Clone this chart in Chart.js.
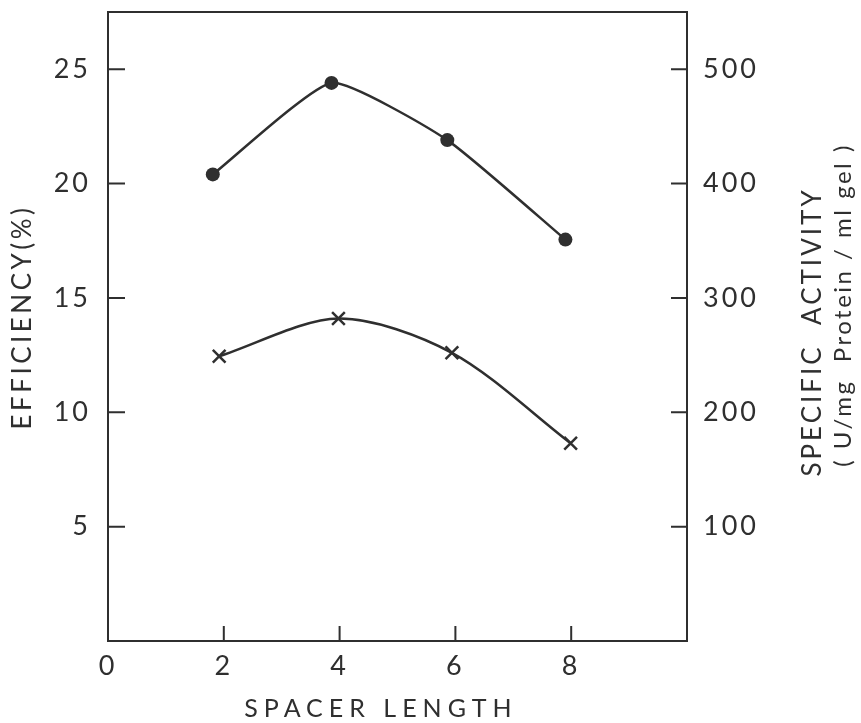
<!DOCTYPE html>
<html>
<head>
<meta charset="utf-8">
<script src="https://cdn.jsdelivr.net/npm/chart.js@4/dist/chart.umd.min.js"></script>
<style>
  html, body { margin: 0; padding: 0; background: #fff; }
  #wrap { width: 861px; height: 723px; position: relative; }
</style>
</head>
<body>
<div id="wrap"><canvas id="c"></canvas></div>
<script>
// Spacer length (x) for each measured point
const spacerEff = [1.81, 3.86, 5.86, 7.90];
const efficiency = [20.4, 24.4, 21.9, 17.55];          // %, left axis (filled circles)
const spacerAct = [1.92, 3.98, 5.94, 7.99];
const specificActivity = [249, 282, 252, 173];         // U/mg protein/ml gel, right axis (crosses)

const xTicks = [0, 2, 4, 6, 8];
const leftTicks = [5, 10, 15, 20, 25];
const rightTicks = [100, 200, 300, 400, 500];

const INK = '#2f2f2f';
const FONT = 'Lato, "Open Sans", "DejaVu Sans", sans-serif';

const effPoints = spacerEff.map((x, i) => ({ x, y: efficiency[i] }));
const actPoints = spacerAct.map((x, i) => ({ x, y: specificActivity[i] }));

// no extra edge padding for the end tick labels
const noEdgePad = s => { s.paddingTop = 0; s.paddingBottom = 0; s.paddingLeft = 0; s.paddingRight = 0; };

// Frame, inward tick marks and axis titles
const decor = {
  id: 'decor',
  beforeDraw(chart) {
    chart.ctx.letterSpacing = '3px';
  },
  afterDraw(chart) {
    const { ctx, chartArea: a, scales } = chart;
    ctx.save();
    ctx.strokeStyle = INK;
    ctx.lineWidth = 2;
    ctx.strokeRect(a.left, a.top, a.right - a.left, a.bottom - a.top);

    ctx.beginPath();
    scales.x.ticks.forEach(t => {
      if (t.value === 0) return;
      const px = scales.x.getPixelForValue(t.value);
      ctx.moveTo(px, a.bottom); ctx.lineTo(px, a.bottom - 15);
    });
    scales.y.ticks.forEach(t => {
      const py = scales.y.getPixelForValue(t.value);
      ctx.moveTo(a.left, py); ctx.lineTo(a.left + 17, py);
    });
    scales.y2.ticks.forEach(t => {
      const py = scales.y2.getPixelForValue(t.value);
      ctx.moveTo(a.right, py); ctx.lineTo(a.right - 16, py);
    });
    ctx.stroke();

    ctx.fillStyle = INK;
    ctx.textAlign = 'center';
    ctx.textBaseline = 'middle';

    // bottom title
    ctx.letterSpacing = '6px';
    ctx.font = '25px ' + FONT;
    ctx.fillText('SPACER LENGTH', 381, 709);

    // left title
    ctx.save();
    ctx.translate(23, 317);
    ctx.rotate(-Math.PI / 2);
    ctx.letterSpacing = '3.5px';
    ctx.font = '26px ' + FONT;
    ctx.fillText('EFFICIENCY(%)', 0, 0);
    ctx.restore();

    // right title, two lines
    ctx.save();
    ctx.translate(813, 332);
    ctx.rotate(-Math.PI / 2);
    ctx.letterSpacing = '3px';
    ctx.font = '26px ' + FONT;
    ctx.fillText('SPECIFIC  ACTIVITY', 0, 0);
    ctx.restore();

    ctx.save();
    ctx.translate(843, 305);
    ctx.rotate(-Math.PI / 2);
    ctx.letterSpacing = '2.5px';
    ctx.font = '24px ' + FONT;
    ctx.fillText('( U/mg  Protein / ml gel )', 0, 0);
    ctx.restore();

    ctx.restore();
  }
};

new Chart(document.getElementById('c'), {
  type: 'line',
  data: {
    datasets: [
      {
        label: 'Efficiency (%)',
        data: effPoints,
        yAxisID: 'y',
        borderColor: INK,
        backgroundColor: INK,
        borderWidth: 2.5,
        tension: 0.16,
        pointStyle: 'circle',
        pointRadius: 7,
        pointBorderWidth: 0,
        pointBackgroundColor: INK
      },
      {
        label: 'Specific activity',
        data: actPoints,
        yAxisID: 'y2',
        borderColor: INK,
        backgroundColor: INK,
        borderWidth: 2.5,
        tension: 0.3,
        pointStyle: 'crossRot',
        pointRadius: 9,
        pointBorderWidth: 2.5,
        pointBorderColor: INK
      }
    ]
  },
  options: {
    responsive: true,
    maintainAspectRatio: false,
    animation: false,
    layout: { padding: { top: 12, left: 0, right: 0, bottom: 0 } },
    plugins: { legend: { display: false }, tooltip: { enabled: false } },
    scales: {
      x: {
        type: 'linear',
        min: 0, max: 10,
        afterBuildTicks: s => { s.ticks = xTicks.map(v => ({ value: v })); },
        afterFit: s => { s.height = 82; noEdgePad(s); },
        grid: { display: false, drawTicks: false },
        border: { display: false },
        ticks: { color: INK, padding: 9, font: { family: FONT, size: 27 } }
      },
      y: {
        position: 'left',
        min: 0, max: 27.5,
        afterBuildTicks: s => { s.ticks = leftTicks.map(v => ({ value: v })); },
        afterFit: s => { s.width = 108; noEdgePad(s); },
        grid: { display: false, drawTicks: false },
        border: { display: false },
        ticks: { color: INK, padding: 17, font: { family: FONT, size: 27 } }
      },
      y2: {
        position: 'right',
        min: 0, max: 550,
        afterBuildTicks: s => { s.ticks = rightTicks.map(v => ({ value: v })); },
        afterFit: s => { s.width = 174; noEdgePad(s); },
        grid: { display: false, drawTicks: false },
        border: { display: false },
        ticks: { color: INK, padding: 16, font: { family: FONT, size: 27 } }
      }
    }
  },
  plugins: [decor]
});
</script>
</body>
</html>
